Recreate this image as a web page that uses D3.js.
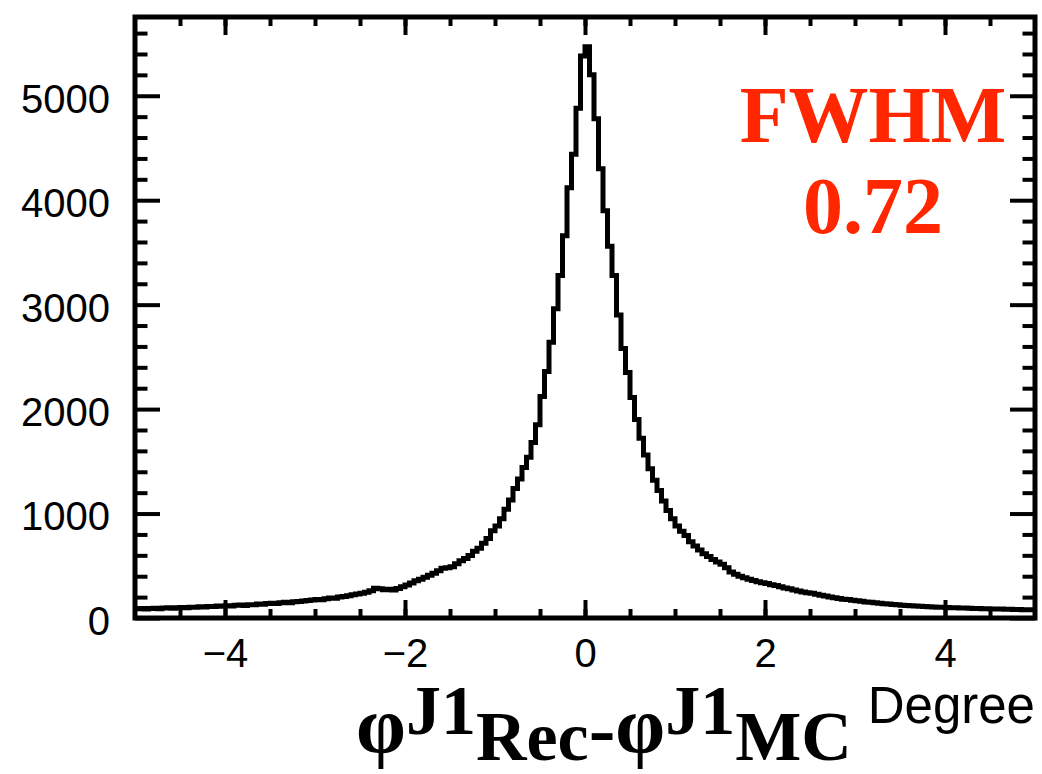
<!DOCTYPE html>
<html>
<head>
<meta charset="utf-8">
<script src="https://cdn.jsdelivr.net/npm/d3@7"></script>
<style>
  html, body { margin: 0; padding: 0; background: #fff; }
  svg { display: block; }
</style>
</head>
<body>
<svg id="chart" width="1042" height="774"></svg>
<script>
// Histogram of reconstructed minus generated azimuthal angle of the leading jet (degrees)
// 200 bins of 0.05 degree from -5 to +5
const xRange = [-5, 5];
const binWidth = 0.05;
const counts = [
  88, 92, 86, 90, 94, 89, 95, 97, 93, 99,
  101, 97, 104, 102, 108, 105, 111, 109, 114, 112,
  118, 115, 121, 124, 120, 128, 126, 133, 131, 138,
  142, 139, 147, 150, 146, 156, 159, 163, 168, 172,
  178, 174, 185, 191, 188, 200, 206, 213, 222, 230,
  238, 247, 262, 285, 280, 270, 276, 268, 282, 300,
  316, 335, 356, 372, 390, 410, 428, 452, 476, 482,
  490, 520, 548, 570, 598, 640, 668, 715, 760, 835,
  880, 950, 1040, 1130, 1240, 1330, 1440, 1540, 1680, 1850,
  2120, 2360, 2640, 2960, 3280, 3660, 4120, 4440, 4880, 5380,
  5470, 5200, 4780, 4300, 3900, 3560, 3280, 2900, 2580, 2350,
  2110, 1900, 1720, 1560, 1430, 1320, 1220, 1120, 1030, 950,
  880, 830, 790, 730, 690, 650, 615, 590, 560, 535,
  515, 480, 440, 420, 400, 385, 372, 360, 348, 338,
  330, 318, 310, 298, 288, 280, 268, 258, 250, 242,
  236, 228, 218, 210, 200, 194, 186, 180, 176, 170,
  166, 160, 154, 150, 146, 141, 137, 134, 130, 126,
  123, 119, 117, 114, 112, 109, 107, 106, 104, 102,
  100, 99, 97, 96, 95, 93, 92, 91, 89, 88,
  87, 86, 85, 84, 83, 82, 81, 80, 80, 79
];
const yMax = 5754;
const xMajorTicks = [-4, -2, 0, 2, 4];
const xMinorTicks = [-4.5, -4, -3.5, -3, -2.5, -2, -1.5, -1, -0.5, 0, 0.5, 1, 1.5, 2, 2.5, 3, 3.5, 4, 4.5];
const yMajorTicks = [0, 1000, 2000, 3000, 4000, 5000];
const yMinorTicks = [200, 400, 600, 800, 1200, 1400, 1600, 1800, 2200, 2400, 2600, 2800,
                     3200, 3400, 3600, 3800, 4200, 4400, 4600, 4800, 5200, 5400, 5600];
const fwhmLabel = ["FWHM", "0.72"];

const frame = { left: 135, right: 1035, top: 17, bottom: 618 };
const svg = d3.select("#chart");

const x = d3.scaleLinear().domain(xRange).range([frame.left, frame.right]);
const y = d3.scaleLinear().domain([0, yMax]).range([frame.bottom, frame.top]);

const sans = "'Liberation Sans', Arial, Helvetica, sans-serif";
const serif = "'Liberation Serif', 'Times New Roman', serif";
const fmt = v => d3.format("d")(v).replace("-", "\u2212");

function styleAxis(g, width) {
  g.select(".domain").remove();
  g.selectAll(".tick line").attr("stroke", "#000").attr("stroke-width", width);
  g.selectAll("text").attr("font-family", sans).attr("font-size", 40).attr("fill", "#000");
}

// bottom axis: major ticks with labels, minor ticks
svg.append("g").attr("transform", `translate(0,${frame.bottom})`)
  .call(d3.axisBottom(x).tickValues(xMinorTicks).tickSize(-9).tickFormat(""))
  .call(g => styleAxis(g, 4));
svg.append("g").attr("transform", `translate(0,${frame.bottom})`)
  .call(d3.axisBottom(x).tickValues(xMajorTicks).tickSize(-18).tickPadding(21).tickFormat(fmt))
  .call(g => styleAxis(g, 4));
// top axis mirror
svg.append("g").attr("transform", `translate(0,${frame.top})`)
  .call(d3.axisTop(x).tickValues(xMinorTicks).tickSize(-9).tickFormat(""))
  .call(g => styleAxis(g, 4));
svg.append("g").attr("transform", `translate(0,${frame.top})`)
  .call(d3.axisTop(x).tickValues(xMajorTicks).tickSize(-18).tickFormat(""))
  .call(g => styleAxis(g, 4));

// left axis
svg.append("g").attr("transform", `translate(${frame.left},0)`)
  .call(d3.axisLeft(y).tickValues(yMinorTicks).tickSize(-12.5).tickFormat(""))
  .call(g => styleAxis(g, 4));
const yAx = svg.append("g").attr("transform", `translate(${frame.left},0)`)
  .call(d3.axisLeft(y).tickValues(yMajorTicks).tickSize(-25).tickPadding(25).tickFormat(fmt))
  .call(g => styleAxis(g, 4));
yAx.selectAll("text").attr("dy", "0.41em");
// right axis mirror
svg.append("g").attr("transform", `translate(${frame.right},0)`)
  .call(d3.axisRight(y).tickValues(yMinorTicks).tickSize(-12.5).tickFormat(""))
  .call(g => styleAxis(g, 4));
svg.append("g").attr("transform", `translate(${frame.right},0)`)
  .call(d3.axisRight(y).tickValues(yMajorTicks).tickSize(-25).tickFormat(""))
  .call(g => styleAxis(g, 4));

// histogram outline (step line through bin edges)
const edges = counts.map((c, i) => ({ x: xRange[0] + i * binWidth, v: c }));
edges.push({ x: xRange[1], v: counts[counts.length - 1] });
svg.append("path")
  .datum(edges)
  .attr("fill", "none")
  .attr("stroke", "#000")
  .attr("stroke-width", 5)
  .attr("stroke-linejoin", "miter")
  .attr("d", d3.line().x(d => x(d.x)).y(d => y(d.v)).curve(d3.curveStepAfter));

// frame
svg.append("rect")
  .attr("x", frame.left).attr("y", frame.top)
  .attr("width", frame.right - frame.left).attr("height", frame.bottom - frame.top)
  .attr("fill", "none").attr("stroke", "#000").attr("stroke-width", 5);

// resolution annotation
const note = svg.append("text")
  .attr("font-family", serif).attr("font-weight", "bold").attr("font-size", 80)
  .attr("fill", "#ff2600").attr("text-anchor", "middle");
note.append("tspan").attr("x", 873).attr("y", 142).text(fwhmLabel[0]);
note.append("tspan").attr("x", 873).attr("y", 233).text(fwhmLabel[1]);

// x-axis title: phi^{J1}_{Rec} - phi^{J1}_{MC}
const title = svg.append("text")
  .attr("x", 356)
  .attr("font-family", serif).attr("font-weight", "bold").attr("fill", "#000");
title.append("tspan").attr("font-size", 80).attr("y", 752).text("\u03c6");
title.append("tspan").attr("font-size", 70).attr("y", 734).text("J1");
title.append("tspan").attr("font-size", 70).attr("y", 760).text("Rec");
title.append("tspan").attr("font-size", 80).attr("y", 756).text("-");
title.append("tspan").attr("font-size", 80).attr("y", 752).text("\u03c6");
title.append("tspan").attr("font-size", 70).attr("y", 734).text("J1");
title.append("tspan").attr("font-size", 70).attr("y", 760).text("MC");

svg.append("text")
  .attr("x", 1035).attr("y", 723)
  .attr("text-anchor", "end")
  .attr("font-family", sans).attr("font-size", 51).attr("fill", "#000")
  .text("Degree");
</script>
</body>
</html>
